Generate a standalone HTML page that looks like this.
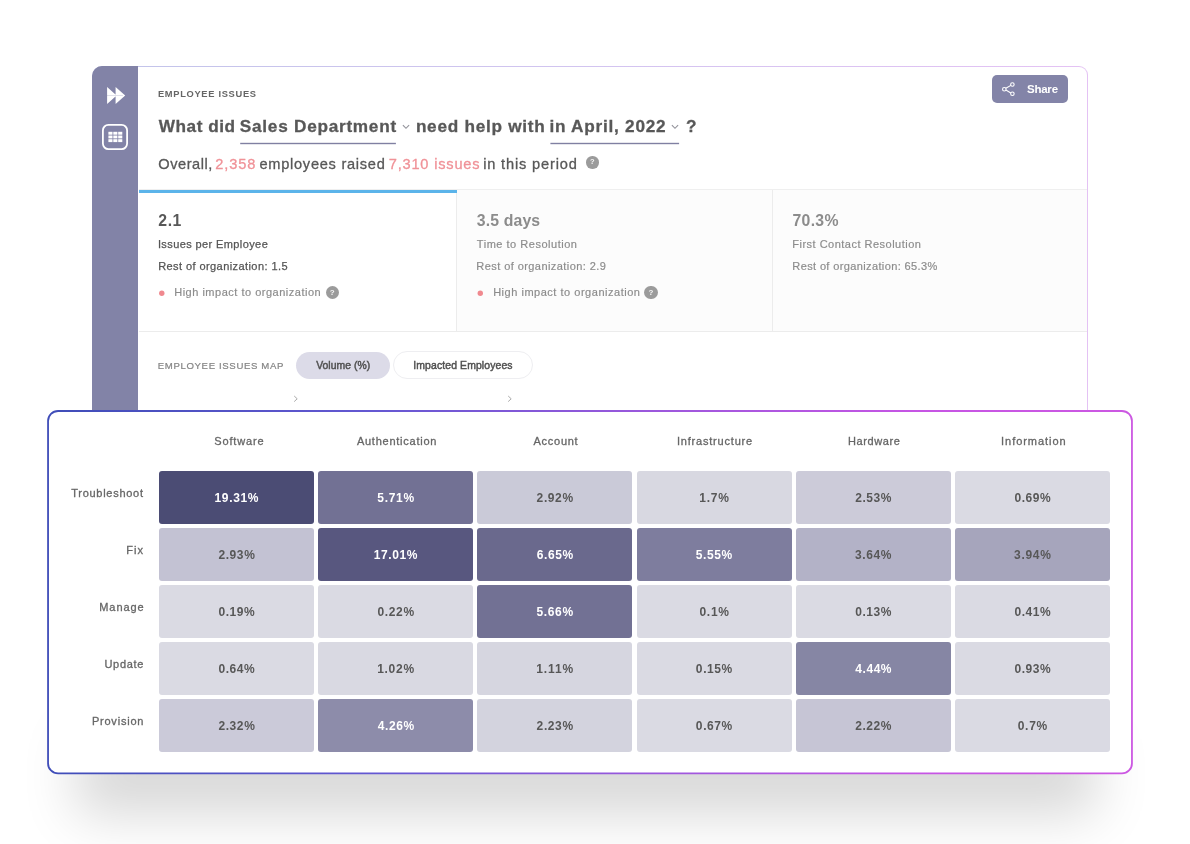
<!DOCTYPE html>
<html lang="en">
<head>
<meta charset="utf-8">
<title>Employee Issues</title>
<style>
*{box-sizing:border-box;margin:0;padding:0}
html,body{width:1190px;height:844px;background:#fff;overflow:hidden}
body{position:relative;font-family:"Liberation Sans",Arial,sans-serif;color:#555}
.abs{position:absolute}
.t{position:absolute;white-space:nowrap;line-height:1}
#card{position:absolute;left:92px;top:66px;width:996px;height:420px;border:1px solid transparent;border-radius:10px 9px 0 0;background:linear-gradient(#fff,#fff) padding-box,linear-gradient(90deg,#c2c4ea 0%,#d2c4f0 50%,#e4c2f4 100%) border-box;overflow:hidden}
#side{position:absolute;left:92px;top:66px;width:46px;height:420px;background:#8283a7;border-radius:10px 0 0 0}
#hdrline{position:absolute;left:46px;top:122px;width:950px;height:1px;background:#efefef}
#m1{position:absolute;left:46px;top:123px;width:317px;height:141px;background:#fff}
#m2{position:absolute;left:363px;top:123px;width:316px;height:141px;background:#fcfcfc;border-left:1px solid #ececec}
#m3{position:absolute;left:679px;top:123px;width:317px;height:141px;background:#fcfcfc;border-left:1px solid #ececec}
#mline{position:absolute;left:46px;top:264px;width:950px;height:1px;background:#ececec}
#blue{position:absolute;left:46px;top:123px;width:318px;height:3px;background:#5bb4ea}
#shadow{position:absolute;left:76px;top:690px;width:1020px;height:80px;border-radius:4px;box-shadow:0 45px 54px rgba(0,0,0,.155)}
#panel{position:absolute;left:47px;top:410px;width:1086px;height:364px;border-radius:11px;background:linear-gradient(90deg,#4453c0 0%,#7a55d8 45%,#c453e6 75%,#d554e4 100%)}
#panelin{position:absolute;left:2px;top:2px;right:2px;bottom:2px;border-radius:9px;background:#fff}
.cell{position:absolute;width:155px;height:53px;border-radius:3px}
.q{position:absolute;border-radius:50%;background:#9b9b9b;color:rgba(255,255,255,.9);font-weight:bold;text-align:center}
</style>
</head>
<body>
<div id="card">
  <div id="hdrline"></div>
  <div id="m1"></div><div id="m2"></div><div id="m3"></div>
  <div id="mline"></div>
  <div id="blue"></div>
</div>
<div id="side"></div>

<svg class="abs" style="left:106px;top:86px" width="20" height="19" viewBox="0 0 20 19"><path d="M1.1 1 L10.6 9.5 L1.1 18 Z M9.6 1 L19.2 9.5 L9.6 18 Z" fill="#fff"/><path d="M1 9.5 H17" stroke="#8283a7" stroke-width=".7" opacity=".35"/></svg>
<svg class="abs" style="left:100px;top:122px" width="30" height="30" viewBox="0 0 30 30"><rect x="2.9" y="2.9" width="24.2" height="24.2" rx="5.5" fill="none" stroke="#fff" stroke-width="1.8"/></svg>
<svg class="abs" style="left:108px;top:131px" width="15" height="12" viewBox="0 0 15 12"><g fill="#fff"><rect x="0.4" y="0.8" width="4.1" height="2.9"/><rect x="5.3" y="0.8" width="4.1" height="2.9"/><rect x="10.2" y="0.8" width="4.1" height="2.9"/><rect x="0.4" y="4.5" width="4.1" height="2.9"/><rect x="5.3" y="4.5" width="4.1" height="2.9"/><rect x="10.2" y="4.5" width="4.1" height="2.9"/><rect x="0.4" y="8.2" width="4.1" height="2.9"/><rect x="5.3" y="8.2" width="4.1" height="2.9"/><rect x="10.2" y="8.2" width="4.1" height="2.9"/></g></svg>

<svg class="abs" style="left:230px;top:140px" width="460" height="6" viewBox="230 140 460 6"><rect x="240.2" y="142.8" width="155.7" height="1.4" fill="#8080a2"/><rect x="550.4" y="142.8" width="128.7" height="1.4" fill="#8080a2"/></svg>
<svg class="abs" style="left:402.4px;top:124.2px" width="8" height="6" viewBox="0 0 8 6"><path d="M0.9 1.2 L4 4.3 L7.1 1.2" fill="none" stroke="#94949c" stroke-width="1.15"/></svg>
<svg class="abs" style="left:671.2px;top:124.2px" width="8" height="6" viewBox="0 0 8 6"><path d="M0.9 1.2 L4 4.3 L7.1 1.2" fill="none" stroke="#94949c" stroke-width="1.15"/></svg>
<div class="q" style="left:586px;top:156px;width:12.5px;height:12.5px;font-size:7.5px;line-height:12.5px">?</div>

<div class="abs" style="left:992px;top:75px;width:76px;height:28px;border-radius:5px;background:#8384a8"></div>
<svg class="abs" style="left:1001px;top:81px" width="16" height="17" viewBox="0 0 16 17"><g fill="none" stroke="#fff" stroke-width="1.1"><circle cx="11.4" cy="3.5" r="1.75"/><circle cx="3.3" cy="8.2" r="1.75"/><circle cx="11.4" cy="12.8" r="1.75"/><path d="M4.9 7.3 L9.8 4.4 M4.9 9.1 L9.8 11.9"/></g></svg>

<svg class="abs" style="left:157px;top:288px" width="10" height="10"><circle cx="4.8" cy="5.2" r="2.7" fill="#f0898f"/></svg>
<div class="q" style="left:325.6px;top:285.8px;width:13.4px;height:13.4px;font-size:8px;line-height:13.4px">?</div>
<svg class="abs" style="left:475px;top:288px" width="10" height="10"><circle cx="5.3" cy="5.2" r="2.7" fill="#f0898f"/></svg>
<div class="q" style="left:644.3px;top:285.8px;width:13.4px;height:13.4px;font-size:8px;line-height:13.4px">?</div>

<div class="abs" style="left:295.7px;top:352px;width:94px;height:26.5px;border-radius:14px;background:#dcdbe8"></div>
<div class="abs" style="left:393.2px;top:350.7px;width:140.3px;height:28.6px;border-radius:15px;background:#fff;border:1px solid #eeeef1"></div>
<svg class="abs" style="left:293px;top:395px" width="6" height="8" viewBox="0 0 6 8"><path d="M1.2 1 L4.2 3.8 L1.2 6.6" fill="none" stroke="#aaa" stroke-width="1"/></svg>
<svg class="abs" style="left:507px;top:395px" width="6" height="8" viewBox="0 0 6 8"><path d="M1.2 1 L4.2 3.8 L1.2 6.6" fill="none" stroke="#aaa" stroke-width="1"/></svg>

<div id="shadow"></div>
<svg class="abs" style="left:40px;top:404px" width="1100" height="376" viewBox="40 404 1100 376"><defs><linearGradient id="pg" x1="0" y1="0" x2="1" y2="0"><stop offset="0" stop-color="#3f4db8"/><stop offset="0.3" stop-color="#6458d2"/><stop offset="0.55" stop-color="#9a58dc"/><stop offset="0.8" stop-color="#c655e4"/><stop offset="1" stop-color="#cc58e2"/></linearGradient></defs><rect x="48.05" y="411" width="1083.9" height="362.4" rx="10" ry="10" fill="#fff" stroke="url(#pg)" stroke-width="1.8"/></svg>
<div class="cell" style="left:159.0px;top:471px;background:#4b4c74"></div>
<div class="cell" style="left:318.2px;top:471px;background:#727194"></div>
<div class="cell" style="left:477.4px;top:471px;background:#cacad8"></div>
<div class="cell" style="left:636.6px;top:471px;background:#d8d8e1"></div>
<div class="cell" style="left:795.8px;top:471px;background:#cccbd9"></div>
<div class="cell" style="left:955.0px;top:471px;background:#dadae3"></div>
<div class="cell" style="left:159.0px;top:528px;background:#c3c2d3"></div>
<div class="cell" style="left:318.2px;top:528px;background:#58577f"></div>
<div class="cell" style="left:477.4px;top:528px;background:#6a698d"></div>
<div class="cell" style="left:636.6px;top:528px;background:#7e7d9e"></div>
<div class="cell" style="left:795.8px;top:528px;background:#b3b2c7"></div>
<div class="cell" style="left:955.0px;top:528px;background:#a6a5bc"></div>
<div class="cell" style="left:159.0px;top:585px;background:#dadae3"></div>
<div class="cell" style="left:318.2px;top:585px;background:#dadae3"></div>
<div class="cell" style="left:477.4px;top:585px;background:#727194"></div>
<div class="cell" style="left:636.6px;top:585px;background:#dadae3"></div>
<div class="cell" style="left:795.8px;top:585px;background:#dadae3"></div>
<div class="cell" style="left:955.0px;top:585px;background:#dadae3"></div>
<div class="cell" style="left:159.0px;top:642px;background:#dadae3"></div>
<div class="cell" style="left:318.2px;top:642px;background:#d9d9e2"></div>
<div class="cell" style="left:477.4px;top:642px;background:#d6d6e0"></div>
<div class="cell" style="left:636.6px;top:642px;background:#dadae3"></div>
<div class="cell" style="left:795.8px;top:642px;background:#8686a4"></div>
<div class="cell" style="left:955.0px;top:642px;background:#dadae3"></div>
<div class="cell" style="left:159.0px;top:699px;background:#cbcad9"></div>
<div class="cell" style="left:318.2px;top:699px;background:#8d8caa"></div>
<div class="cell" style="left:477.4px;top:699px;background:#d3d3de"></div>
<div class="cell" style="left:636.6px;top:699px;background:#dadae3"></div>
<div class="cell" style="left:795.8px;top:699px;background:#c6c5d5"></div>
<div class="cell" style="left:955.0px;top:699px;background:#dadae3"></div>
<div class="t" id="emp" style="left:157.98px;top:89.70px;font-size:9.30px;font-weight:bold;color:#666;letter-spacing:0.691px">EMPLOYEE ISSUES</div>
<div class="t" id="tt1" style="left:158.81px;top:118.32px;font-size:17.20px;font-weight:bold;color:#585858;letter-spacing:0.517px;-webkit-text-stroke:.3px #585858">What did</div>
<div class="t" id="tt2" style="left:239.86px;top:118.32px;font-size:17.20px;font-weight:bold;color:#585858;letter-spacing:0.738px;-webkit-text-stroke:.3px #585858">Sales Department</div>
<div class="t" id="tt4" style="left:415.89px;top:118.32px;font-size:17.20px;font-weight:bold;color:#585858;letter-spacing:0.729px;-webkit-text-stroke:.3px #585858">need help with</div>
<div class="t" id="tt5" style="left:549.44px;top:118.32px;font-size:17.20px;font-weight:bold;color:#585858;letter-spacing:0.753px;-webkit-text-stroke:.3px #585858">in April, 2022</div>
<div class="t" id="tt7" style="left:686.05px;top:118.32px;font-size:17.20px;font-weight:bold;color:#585858;letter-spacing:0.000px;-webkit-text-stroke:.3px #585858">?</div>
<div class="t" id="sub1" style="left:158.29px;top:156.71px;font-size:14.60px;font-weight:normal;color:#585858;letter-spacing:0.532px;-webkit-text-stroke:.3px #585858">Overall,</div>
<div class="t" id="sub2" style="left:215.22px;top:156.71px;font-size:14.60px;font-weight:normal;color:#f09298;letter-spacing:0.901px;-webkit-text-stroke:.3px #f09298">2,358</div>
<div class="t" id="sub3" style="left:259.45px;top:156.71px;font-size:14.60px;font-weight:normal;color:#585858;letter-spacing:0.733px;-webkit-text-stroke:.3px #585858">employees raised</div>
<div class="t" id="sub4" style="left:388.78px;top:156.71px;font-size:14.60px;font-weight:normal;color:#f09298;letter-spacing:0.801px;-webkit-text-stroke:.3px #f09298">7,310 issues</div>
<div class="t" id="sub5" style="left:483.19px;top:156.71px;font-size:14.60px;font-weight:normal;color:#585858;letter-spacing:0.837px;-webkit-text-stroke:.3px #585858">in this period</div>
<div class="t" id="share" style="left:1026.93px;top:84.10px;font-size:11.50px;font-weight:bold;color:#fff;letter-spacing:-0.213px">Share</div>
<div class="t" id="m1a" style="left:158.30px;top:212.60px;font-size:15.80px;font-weight:bold;color:#585858;letter-spacing:0.567px">2.1</div>
<div class="t" id="m1b" style="left:157.89px;top:239.01px;font-size:11.00px;font-weight:normal;color:#555;letter-spacing:0.398px;-webkit-text-stroke:.25px #555">Issues per Employee</div>
<div class="t" id="m1c" style="left:158.13px;top:261.40px;font-size:11.00px;font-weight:normal;color:#555;letter-spacing:0.424px;-webkit-text-stroke:.25px #555">Rest of organization: 1.5</div>
<div class="t" id="m1d" style="left:174.23px;top:286.70px;font-size:11.00px;font-weight:normal;color:#8c8c8c;letter-spacing:0.505px;-webkit-text-stroke:.18px #8c8c8c">High impact to organization</div>
<div class="t" id="m2a" style="left:476.72px;top:212.60px;font-size:15.80px;font-weight:bold;color:#8c8c8c;letter-spacing:0.150px">3.5 days</div>
<div class="t" id="m2b" style="left:476.86px;top:239.01px;font-size:11.00px;font-weight:normal;color:#8c8c8c;letter-spacing:0.518px;-webkit-text-stroke:.18px #8c8c8c">Time to Resolution</div>
<div class="t" id="m2c" style="left:476.33px;top:261.40px;font-size:11.00px;font-weight:normal;color:#8c8c8c;letter-spacing:0.428px;-webkit-text-stroke:.18px #8c8c8c">Rest of organization: 2.9</div>
<div class="t" id="m2d" style="left:493.17px;top:286.70px;font-size:11.00px;font-weight:normal;color:#8c8c8c;letter-spacing:0.518px;-webkit-text-stroke:.18px #8c8c8c">High impact to organization</div>
<div class="t" id="m3a" style="left:792.52px;top:212.60px;font-size:15.80px;font-weight:bold;color:#8c8c8c;letter-spacing:0.298px">70.3%</div>
<div class="t" id="m3b" style="left:792.32px;top:239.01px;font-size:11.00px;font-weight:normal;color:#8c8c8c;letter-spacing:0.485px;-webkit-text-stroke:.18px #8c8c8c">First Contact Resolution</div>
<div class="t" id="m3c" style="left:792.33px;top:261.40px;font-size:11.00px;font-weight:normal;color:#8c8c8c;letter-spacing:0.375px;-webkit-text-stroke:.18px #8c8c8c">Rest of organization: 65.3%</div>
<div class="t" id="maph" style="left:157.75px;top:361.01px;font-size:9.60px;font-weight:normal;color:#858585;letter-spacing:0.645px;-webkit-text-stroke:.2px #858585">EMPLOYEE ISSUES MAP</div>
<div class="t" id="vol" style="left:316.16px;top:360.91px;font-size:10.40px;font-weight:normal;color:#505050;letter-spacing:0.031px;-webkit-text-stroke:.45px #505050">Volume (%)</div>
<div class="t" id="imp" style="left:413.28px;top:360.91px;font-size:10.40px;font-weight:normal;color:#505050;letter-spacing:0.134px;-webkit-text-stroke:.45px #505050">Impacted Employees</div>
<div class="t" id="ch0" style="left:214.30px;top:436.31px;font-size:11.00px;font-weight:normal;color:#666;letter-spacing:0.840px;-webkit-text-stroke:.3px #666">Software</div>
<div class="t" id="ch1" style="left:356.88px;top:436.31px;font-size:11.00px;font-weight:normal;color:#666;letter-spacing:0.760px;-webkit-text-stroke:.3px #666">Authentication</div>
<div class="t" id="ch2" style="left:533.44px;top:436.31px;font-size:11.00px;font-weight:normal;color:#666;letter-spacing:0.748px;-webkit-text-stroke:.3px #666">Account</div>
<div class="t" id="ch3" style="left:676.93px;top:436.31px;font-size:11.00px;font-weight:normal;color:#666;letter-spacing:0.805px;-webkit-text-stroke:.3px #666">Infrastructure</div>
<div class="t" id="ch4" style="left:847.90px;top:436.31px;font-size:11.00px;font-weight:normal;color:#666;letter-spacing:0.628px;-webkit-text-stroke:.3px #666">Hardware</div>
<div class="t" id="ch5" style="left:1001.12px;top:436.31px;font-size:11.00px;font-weight:normal;color:#666;letter-spacing:0.950px;-webkit-text-stroke:.3px #666">Information</div>
<div class="t" id="rh0" style="left:71.25px;top:488.01px;font-size:11.00px;font-weight:normal;color:#666;letter-spacing:0.723px;-webkit-text-stroke:.3px #666">Troubleshoot</div>
<div class="t" id="rh1" style="left:126.37px;top:545.01px;font-size:11.00px;font-weight:normal;color:#666;letter-spacing:1.012px;-webkit-text-stroke:.3px #666">Fix</div>
<div class="t" id="rh2" style="left:99.30px;top:602.01px;font-size:11.00px;font-weight:normal;color:#666;letter-spacing:0.899px;-webkit-text-stroke:.3px #666">Manage</div>
<div class="t" id="rh3" style="left:104.40px;top:659.01px;font-size:11.00px;font-weight:normal;color:#666;letter-spacing:0.719px;-webkit-text-stroke:.3px #666">Update</div>
<div class="t" id="rh4" style="left:91.90px;top:716.01px;font-size:11.00px;font-weight:normal;color:#666;letter-spacing:0.788px;-webkit-text-stroke:.3px #666">Provision</div>
<div class="t" id="v00" style="left:214.47px;top:492.00px;font-size:12.00px;font-weight:bold;color:#fff;letter-spacing:0.659px">19.31%</div>
<div class="t" id="v01" style="left:377.35px;top:492.00px;font-size:12.00px;font-weight:bold;color:#fff;letter-spacing:0.677px">5.71%</div>
<div class="t" id="v02" style="left:536.62px;top:492.00px;font-size:12.00px;font-weight:bold;color:#575757;letter-spacing:0.611px">2.92%</div>
<div class="t" id="v03" style="left:699.25px;top:492.00px;font-size:12.00px;font-weight:bold;color:#575757;letter-spacing:0.774px">1.7%</div>
<div class="t" id="v04" style="left:855.17px;top:492.00px;font-size:12.00px;font-weight:bold;color:#575757;letter-spacing:0.586px">2.53%</div>
<div class="t" id="v05" style="left:1014.39px;top:492.00px;font-size:12.00px;font-weight:bold;color:#575757;letter-spacing:0.597px">0.69%</div>
<div class="t" id="v10" style="left:218.41px;top:549.00px;font-size:12.00px;font-weight:bold;color:#575757;letter-spacing:0.592px">2.93%</div>
<div class="t" id="v11" style="left:373.69px;top:549.00px;font-size:12.00px;font-weight:bold;color:#fff;letter-spacing:0.613px">17.01%</div>
<div class="t" id="v12" style="left:536.71px;top:549.00px;font-size:12.00px;font-weight:bold;color:#fff;letter-spacing:0.590px">6.65%</div>
<div class="t" id="v13" style="left:695.71px;top:549.00px;font-size:12.00px;font-weight:bold;color:#fff;letter-spacing:0.635px">5.55%</div>
<div class="t" id="v14" style="left:854.92px;top:549.00px;font-size:12.00px;font-weight:bold;color:#575757;letter-spacing:0.649px">3.64%</div>
<div class="t" id="v15" style="left:1014.10px;top:549.00px;font-size:12.00px;font-weight:bold;color:#575757;letter-spacing:0.670px">3.94%</div>
<div class="t" id="v20" style="left:218.39px;top:606.00px;font-size:12.00px;font-weight:bold;color:#575757;letter-spacing:0.597px">0.19%</div>
<div class="t" id="v21" style="left:377.38px;top:606.00px;font-size:12.00px;font-weight:bold;color:#575757;letter-spacing:0.670px">0.22%</div>
<div class="t" id="v22" style="left:536.51px;top:606.00px;font-size:12.00px;font-weight:bold;color:#fff;letter-spacing:0.638px">5.66%</div>
<div class="t" id="v23" style="left:699.51px;top:606.00px;font-size:12.00px;font-weight:bold;color:#575757;letter-spacing:0.688px">0.1%</div>
<div class="t" id="v24" style="left:855.14px;top:606.00px;font-size:12.00px;font-weight:bold;color:#575757;letter-spacing:0.594px">0.13%</div>
<div class="t" id="v25" style="left:1014.39px;top:606.00px;font-size:12.00px;font-weight:bold;color:#575757;letter-spacing:0.597px">0.41%</div>
<div class="t" id="v30" style="left:218.39px;top:663.00px;font-size:12.00px;font-weight:bold;color:#575757;letter-spacing:0.597px">0.64%</div>
<div class="t" id="v31" style="left:377.13px;top:663.00px;font-size:12.00px;font-weight:bold;color:#575757;letter-spacing:0.732px">1.02%</div>
<div class="t" id="v32" style="left:536.34px;top:663.00px;font-size:12.00px;font-weight:bold;color:#575757;letter-spacing:0.864px">1.11%</div>
<div class="t" id="v33" style="left:695.86px;top:663.00px;font-size:12.00px;font-weight:bold;color:#575757;letter-spacing:0.599px">0.15%</div>
<div class="t" id="v34" style="left:855.36px;top:663.00px;font-size:12.00px;font-weight:bold;color:#fff;letter-spacing:0.539px">4.44%</div>
<div class="t" id="v35" style="left:1014.39px;top:663.00px;font-size:12.00px;font-weight:bold;color:#575757;letter-spacing:0.597px">0.93%</div>
<div class="t" id="v40" style="left:218.41px;top:720.00px;font-size:12.00px;font-weight:bold;color:#575757;letter-spacing:0.592px">2.32%</div>
<div class="t" id="v41" style="left:377.86px;top:720.00px;font-size:12.00px;font-weight:bold;color:#fff;letter-spacing:0.550px">4.26%</div>
<div class="t" id="v42" style="left:536.62px;top:720.00px;font-size:12.00px;font-weight:bold;color:#575757;letter-spacing:0.611px">2.23%</div>
<div class="t" id="v43" style="left:695.86px;top:720.00px;font-size:12.00px;font-weight:bold;color:#575757;letter-spacing:0.599px">0.67%</div>
<div class="t" id="v44" style="left:855.17px;top:720.00px;font-size:12.00px;font-weight:bold;color:#575757;letter-spacing:0.586px">2.22%</div>
<div class="t" id="v45" style="left:1017.75px;top:720.00px;font-size:12.00px;font-weight:bold;color:#575757;letter-spacing:0.690px">0.7%</div>
</body>
</html>
